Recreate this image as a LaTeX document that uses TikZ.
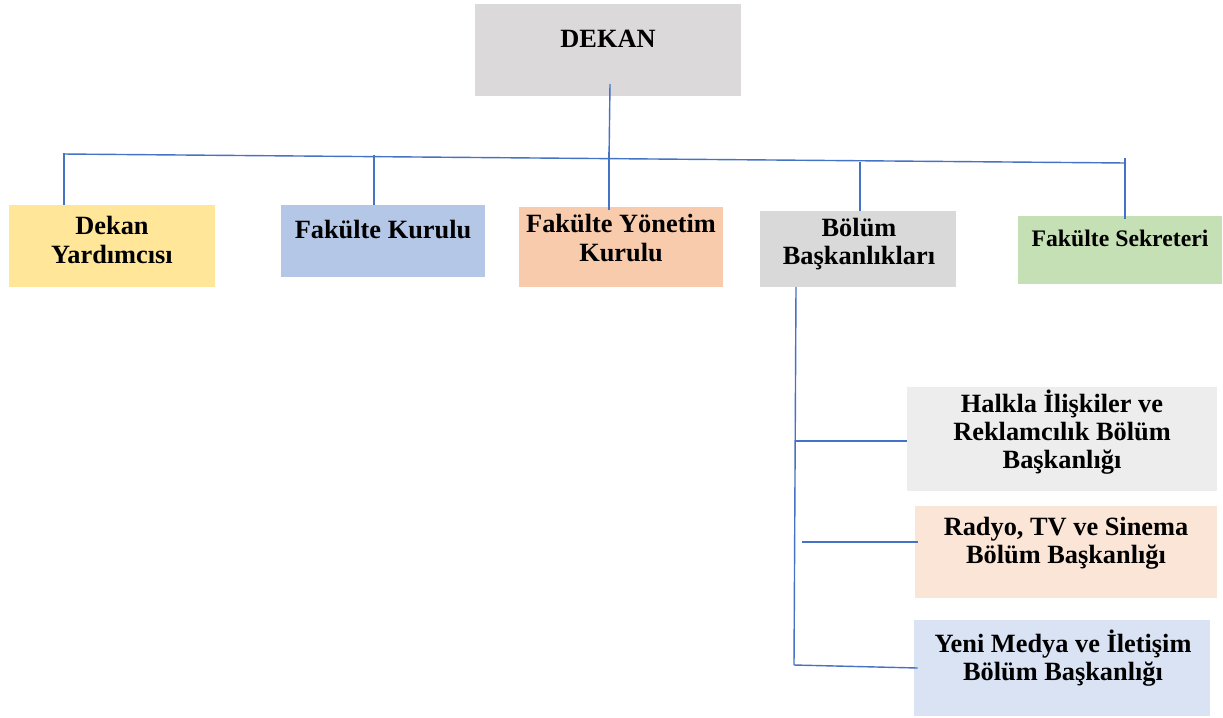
\documentclass[tikz,border=0pt]{standalone}
\usepackage{fontspec}
\setmainfont{Liberation Serif}
\usepackage{tikz}
\usetikzlibrary{positioning, fit, calc}
\usepackage{xcolor}

\definecolor{dekanGray}{HTML}{DBD9DA}
\definecolor{yardYellow}{HTML}{FFE699}
\definecolor{kurulBlue}{HTML}{B4C7E7}
\definecolor{yonetimOrange}{HTML}{F8CBAD}
\definecolor{bolumGray}{HTML}{D9D9D9}
\definecolor{sekrGreen}{HTML}{C5E0B4}
\definecolor{halklaGray}{HTML}{EDEDED}
\definecolor{radyoPeach}{HTML}{FBE5D6}
\definecolor{medyaBlue}{HTML}{DAE3F3}
\definecolor{linkBlue}{HTML}{4472C4}

\begin{document}
\begin{tikzpicture}[
    x=0.02cm, y=-0.02cm,
    box/.style={rectangle, inner sep=0pt, draw=none},
    lbl/.style={align=center, inner sep=0pt, font=\bfseries\fontsize{15}{16}\selectfont},
    link/.style={draw=linkBlue, line width=0.8pt}
]
\useasboundingbox (0,0) rectangle (1223,717);

% Top level
\node[box, fill=dekanGray, fit={(475,4) (741,96)}] (dekan) {};
\node[lbl] (dekanT) at (608,39) {DEKAN};

% Second level
\node[box, fill=yardYellow, fit={(9,205) (215,287)}] (yard) {};
\node[lbl] (yardT) at (112,240) {Dekan\\Yardımcısı};

\node[box, fill=kurulBlue, fit={(281,205) (485,277)}] (kurul) {};
\node[lbl] (kurulT) at (383,230) {Fakülte Kurulu};

\node[box, fill=yonetimOrange, fit={(519,207) (723,287)}] (yonetim) {};
\node[lbl] (yonetimT) at (621,238) {Fakülte Yönetim\\Kurulu};

\node[box, fill=bolumGray, fit={(760,211) (956,287)}] (bolum) {};
\node[lbl] (bolumT) at (859,244) {Bölüm\\Başkanlıkları};

\node[box, fill=sekrGreen, fit={(1018,216) (1222,284)}] (sekr) {};
\node[lbl, font=\bfseries\fontsize{13.5}{15}\selectfont] (sekrT) at (1120,238) {Fakülte Sekreteri};

% Departments
\node[box, fill=halklaGray, fit={(907,387) (1217,491)}] (halkla) {};
\node[lbl] (halklaT) at (1062,432) {Halkla İlişkiler ve\\Reklamcılık Bölüm\\Başkanlığı};

\node[box, fill=radyoPeach, fit={(915,506) (1217,598)}] (radyo) {};
\node[lbl] (radyoT) at (1066,543) {Radyo, TV ve Sinema\\Bölüm Başkanlığı};

\node[box, fill=medyaBlue, fit={(914,620) (1210,716)}] (medya) {};
\node[lbl] (medyaT) at (1063,658) {Yeni Medya ve İletişim\\Bölüm Başkanlığı};

% Bus
\coordinate (busL) at (63,154);
\coordinate (busR) at (1126,163);
\coordinate (dk) at (610,84);
\coordinate (t1) at (64,153);
\coordinate (t2) at (374,155);
\coordinate (t3) at (609,152);
\coordinate (t4) at (860,162);
\coordinate (t5) at (1125,158);

\draw[link] (busL) -- (busR);
\draw[link] (dk) -- (609,161);
\draw[link] (t1) -- (t1 |- yard.north);
\draw[link] (t2) -- (t2 |- kurul.north);
\draw[link] (t3) -- ($(t3 |- yonetim.north)+(0,3)$);
\draw[link] (t4) -- (t4 |- bolum.north);
\draw[link] (t5) -- ($(t5 |- sekr.north)+(0,3)$);

% Bolum branches
\coordinate (s0) at (796,287);
\coordinate (sb) at (794,665);
\coordinate (b1) at (796,441);
\coordinate (b2) at (802,542);

\draw[link] (s0) -- (sb);
\draw[link] (b1) -- (b1 -| halkla.west);
\draw[link] (b2) -- ($(b2 -| radyo.west)+(3,0)$);
\draw[link] (sb) -- ($(medya.west |- 0,668)+(4,0)$);

\end{tikzpicture}
\end{document}
